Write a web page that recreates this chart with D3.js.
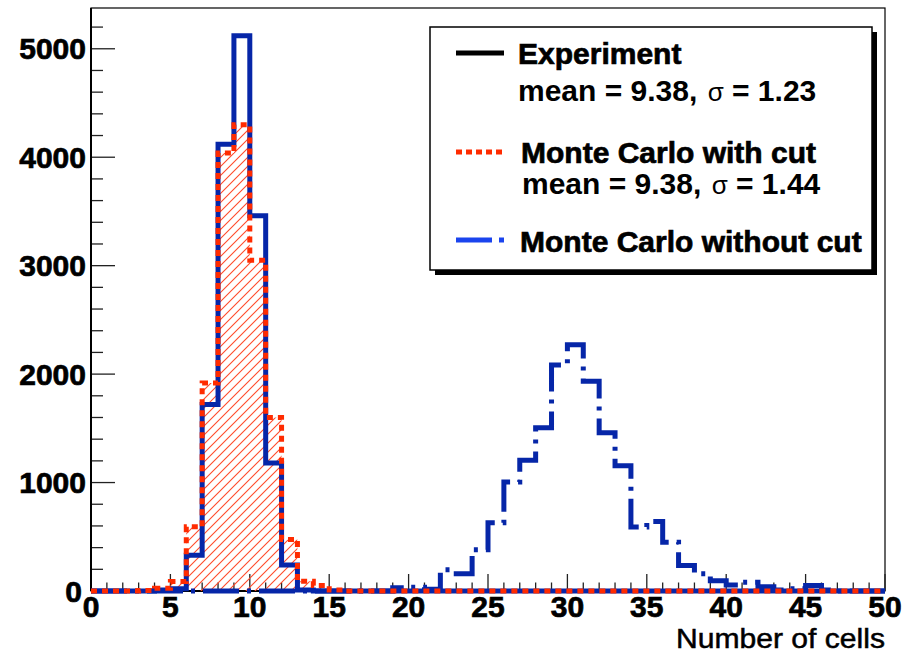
<!DOCTYPE html>
<html>
<head>
<meta charset="utf-8">
<script src="https://cdn.jsdelivr.net/npm/d3@7"></script>
<style>
  html, body { margin: 0; padding: 0; background: #fff; }
  svg { display: block; }
  text { font-family: "Liberation Sans", Arial, Helvetica, sans-serif; }
  text.heavy { stroke: #000; stroke-width: 0.7px; }
</style>
</head>
<body>
<svg id="chart" width="918" height="654"></svg>
<script>
// ---- Data (bin contents, bins of width 1 from 0 to 50) ----
const binLowEdges = [0,1,2,3,4,5,6,7,8,9,10,11,12,13,14,15,16,17,18,19,20,21,22,23,24,25,26,27,28,29,30,31,32,33,34,35,36,37,38,39,40,41,42,43,44,45,46,47,48,49];
const experiment = [0,0,0,0,10,20,330,1720,4120,5120,3460,1180,240,10,0,0,0,0,0,0,0,0,0,0,0,0,0,0,0,0,0,0,0,0,0,0,0,0,0,0,0,0,0,0,0,0,0,0,0,0];
const mcWithCut = [0,0,0,5,25,88,592,1918,4040,4300,3050,1600,476,90,50,10,0,0,0,0,0,0,0,0,0,0,0,0,0,0,0,0,0,0,0,0,0,0,0,0,0,0,0,0,0,0,0,0,0,0];
const mcWithoutCut = [0,0,0,0,0,0,0,0,0,0,0,0,0,0,0,0,0,0,0,30,35,15,195,160,380,630,1005,1205,1505,2085,2270,1935,1460,1155,590,640,450,235,160,95,55,80,40,10,20,50,10,0,0,0];
const xTickValues = [0,5,10,15,20,25,30,35,40,45,50];
const yTickValues = [0,1000,2000,3000,4000,5000];
const xTitle = "Number of cells";
const legendEntries = [
  {name: "Experiment", stats: ["mean = 9.38, ", "\u03c3", " = 1.23"]},
  {name: "Monte Carlo with cut", stats: ["mean = 9.38, ", "\u03c3", " = 1.44"]},
  {name: "Monte Carlo without cut", stats: null}
];

// ---- Layout ----
const plot = {left: 91, right: 885, top: 8, bottom: 591};
const blue = "#0626a8", red = "#ff2b00", hatchRed = "#ff4a2a";

const svg = d3.select("#chart");
const x = d3.scaleLinear().domain([0, 50]).range([plot.left, plot.right]);
const y = d3.scaleLinear().domain([0, 5376]).range([plot.bottom, plot.top]);

// hatch pattern
const defs = svg.append("defs");
const pat = defs.append("pattern").attr("id", "hatch")
  .attr("patternUnits", "userSpaceOnUse").attr("width", 9).attr("height", 9);
pat.append("path").attr("d", "M-1,1 l2,-2 M0,9 l9,-9 M8,10 l2,-2")
  .attr("stroke", hatchRed).attr("stroke-width", 1.1);

// frame
svg.append("rect").attr("x", plot.left).attr("y", plot.top)
  .attr("width", plot.right - plot.left).attr("height", plot.bottom - plot.top)
  .attr("fill", "none").attr("stroke", "#000").attr("stroke-width", 1.2);

// Y axis ticks (inward)
const yMinor = d3.range(0, 5376, 200);
svg.append("g").selectAll("line").data(yMinor).join("line")
  .attr("x1", plot.left).attr("x2", d => plot.left + (d % 1000 === 0 ? 24 : 12))
  .attr("y1", d => y(d)).attr("y2", d => y(d))
  .attr("stroke", "#222").attr("stroke-width", 1.3);
// X axis ticks (inward)
const xMinor = d3.range(0, 51, 1);
svg.append("g").selectAll("line").data(xMinor).join("line")
  .attr("x1", d => x(d)).attr("x2", d => x(d))
  .attr("y1", plot.bottom).attr("y2", d => plot.bottom - (d % 5 === 0 ? 17 : 8.5))
  .attr("stroke", "#222").attr("stroke-width", 1.3);
// axis lines
svg.append("line").attr("x1", plot.left).attr("x2", plot.left).attr("y1", plot.top).attr("y2", plot.bottom)
  .attr("stroke", "#000").attr("stroke-width", 2);
svg.append("line").attr("x1", plot.left).attr("x2", plot.right).attr("y1", plot.bottom).attr("y2", plot.bottom)
  .attr("stroke", "#000").attr("stroke-width", 2);

// tick labels
svg.append("g").selectAll("text").data(yTickValues).join("text")
  .attr("class", "heavy")
  .attr("x", d => d === 0 ? 82 : 86).attr("y", d => y(d) + 10.5).attr("text-anchor", "end")
  .attr("font-size", 30).attr("font-weight", "bold").text(d => d);
svg.append("g").selectAll("text").data(xTickValues).join("text")
  .attr("class", "heavy")
  .attr("x", d => x(d)).attr("y", 617).attr("text-anchor", "middle")
  .attr("font-size", 30).attr("font-weight", "bold").text(d => d);
svg.append("text").attr("x", plot.right).attr("y", 648).attr("text-anchor", "end")
  .attr("font-size", 27).attr("textLength", 209).attr("lengthAdjust", "spacingAndGlyphs")
  .attr("stroke", "#000").attr("stroke-width", 0.5).text(xTitle);

// histogram builders
function stepData(vals) {
  const pts = binLowEdges.map((e, i) => ({x: e, v: vals[i]}));
  pts.push({x: binLowEdges[binLowEdges.length - 1] + 1, v: vals[vals.length - 1]});
  return pts;
}
const line = d3.line().x(d => x(d.x)).y(d => y(d.v)).curve(d3.curveStepAfter);
const area = d3.area().x(d => x(d.x)).y0(y(0)).y1(d => y(d.v)).curve(d3.curveStepAfter);

// hatched fill of MC with cut
svg.append("path").attr("d", area(stepData(mcWithCut))).attr("fill", "url(#hatch)");
// experiment (solid)
svg.append("path").attr("d", line(stepData(experiment)))
  .attr("fill", "none").attr("stroke", blue).attr("stroke-width", 5);
// MC without cut (dash-dot)
svg.append("path").attr("d", line(stepData(mcWithoutCut)))
  .attr("fill", "none").attr("stroke", blue).attr("stroke-width", 5)
  .attr("stroke-dasharray", "36,8,4,8");
// MC with cut (dotted)
svg.append("path").attr("d", line(stepData(mcWithCut)))
  .attr("fill", "none").attr("stroke", red).attr("stroke-width", 5)
  .attr("stroke-dasharray", "6,5");

// ---- Legend ----
const lg = {x: 430, y: 27, w: 442, h: 243};
svg.append("rect").attr("x", lg.x + 5).attr("y", lg.y + 5).attr("width", lg.w).attr("height", lg.h).attr("fill", "#000");
svg.append("rect").attr("x", lg.x).attr("y", lg.y).attr("width", lg.w).attr("height", lg.h)
  .attr("fill", "#fff").attr("stroke", "#000").attr("stroke-width", 1.5);

const sampleStyles = [
  {color: "#000", dash: null, y: 53},
  {color: red, dash: "6,4", y: 152},
  {color: "#1a44ee", dash: "36,7,5,7", y: 240}
];
sampleStyles.forEach(s => {
  const l = svg.append("line").attr("x1", 456).attr("x2", 504).attr("y1", s.y).attr("y2", s.y)
    .attr("stroke", s.color).attr("stroke-width", 5);
  if (s.dash) l.attr("stroke-dasharray", s.dash);
});
const nameRows = [{x: 518, y: 64}, {x: 521, y: 163}, {x: 520, y: 252}];
const statRows = [{x: 518, y: 101}, {x: 522, y: 194}];
legendEntries.forEach((e, i) => {
  svg.append("text").attr("class", "heavy").attr("x", nameRows[i].x).attr("y", nameRows[i].y)
    .attr("font-size", 30).attr("font-weight", "bold").text(e.name);
  if (e.stats) {
    const t = svg.append("text").attr("x", statRows[i].x).attr("y", statRows[i].y)
      .attr("font-size", 30).attr("font-weight", "bold");
    t.append("tspan").attr("class", "heavy").text(e.stats[0]);
    t.append("tspan").attr("font-weight", "normal").attr("font-size", 26).attr("dx", 2).text(e.stats[1]);
    t.append("tspan").attr("class", "heavy").text(e.stats[2]);
  }
});
</script>
</body>
</html>
